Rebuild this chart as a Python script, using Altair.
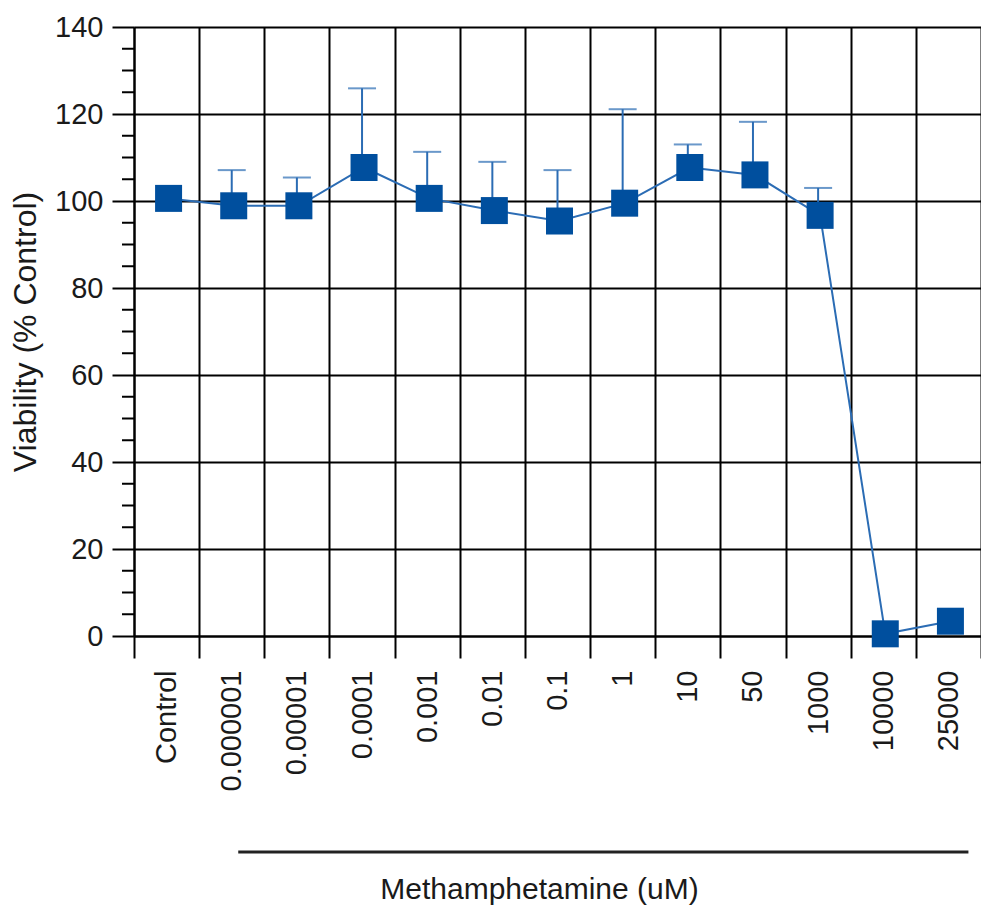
import altair as alt
import pandas as pd

categories = ["Control", "0.000001", "0.00001", "0.0001", "0.001", "0.01", "0.1",
              "1", "10", "50", "1000", "10000", "25000"]
viability = [100.6, 98.9, 98.9, 107.7, 100.6, 97.8, 95.4, 99.5, 107.7, 106.0, 96.7, 0.5, 3.4]
error_up = [0, 8.2, 6.5, 18.2, 10.7, 11.2, 11.7, 21.6, 5.3, 12.2, 6.3, 0, 0]
minor_ticks = [v for v in range(5, 140, 5) if v % 20 != 0]
y_ticks = [0, 20, 40, 60, 80, 100, 120, 140]

df = pd.DataFrame({"cat": categories, "v": viability, "e": error_up})
df["upper"] = df["v"] + df["e"]
df_err = df[df["e"] > 0]
df_minor = pd.DataFrame({"m": minor_ticks})

FONT = "Liberation Sans"
SQ = "#004f9e"
LN = "#2b6cb4"

xscale = alt.Scale(type="band", domain=categories, paddingInner=0, paddingOuter=0)
yscale = alt.Scale(domain=[0, 140], nice=False, zero=True)

xaxis = alt.Axis(
    tickBand="extent", tickSize=22, tickWidth=2, tickColor="black",
    domainColor="black", domainWidth=2,
    grid=True, gridColor="black", gridWidth=2, gridOpacity=1,
    labelAngle=-90, labelPadding=12, labelFontSize=29, labelFont=FONT, labelColor="#1a1a1a",
    title="Methamphetamine (uM)", titleFontSize=30, titleFont=FONT, titleFontWeight="normal",
    titleColor="#1a1a1a", titleX=405, titleY=262, titleBaseline="alphabetic",
)
yaxis = alt.Axis(
    values=y_ticks, tickSize=22, tickWidth=2, tickColor="black",
    domainColor="black", domainWidth=2,
    grid=True, gridColor="black", gridWidth=2, gridOpacity=1,
    labelPadding=9, labelFontSize=29, labelFont=FONT, labelColor="#1a1a1a",
    title="Viability (% Control)", titleFontSize=32, titleFont=FONT, titleFontWeight="normal",
    titleColor="#1a1a1a", titlePadding=12,
)

X = alt.X("cat:N", scale=xscale, axis=xaxis, sort=categories, bandPosition=0.5)
Y = alt.Y("v:Q", scale=yscale, axis=yaxis)

line = alt.Chart(df).mark_line(color=LN, strokeWidth=2, xOffset=2).encode(x=X, y=Y)

err_rule = alt.Chart(df_err).mark_rule(color=LN, strokeWidth=2).encode(
    x=alt.X("cat:N", scale=xscale, sort=categories, bandPosition=0.5),
    y=alt.Y("v:Q", scale=yscale),
    y2="upper:Q",
)
err_cap = alt.Chart(df_err).mark_tick(color=LN, thickness=2, size=28).encode(
    x=alt.X("cat:N", scale=xscale, sort=categories, bandPosition=0.5),
    y=alt.Y("upper:Q", scale=yscale),
)
squares = alt.Chart(df).mark_square(color=SQ, size=729, opacity=1, filled=True, xOffset=2).encode(
    x=alt.X("cat:N", scale=xscale, sort=categories, bandPosition=0.5),
    y=alt.Y("v:Q", scale=yscale),
)
minor = alt.Chart(df_minor).mark_rule(color="black", strokeWidth=2).encode(
    y=alt.Y("m:Q", scale=yscale),
    x=alt.value(-12),
    x2=alt.value(0),
)
bracket_df = pd.DataFrame({"start": ["0.000001"], "end": ["25000"]})
bracket = alt.Chart(bracket_df).mark_rule(color="#222222", strokeWidth=3, x2Offset=20).encode(
    x=alt.X("start:N", scale=xscale, sort=categories, bandPosition=0.6),
    x2="end:N",
    y=alt.value(825),
)

chart = alt.layer(line, err_rule, err_cap, squares, minor, bracket).properties(
    width=847, height=609,
    autosize=alt.AutoSizeParams(type="none"),
    padding={"left": 126, "top": 19, "right": 0, "bottom": 273},
).configure_view(stroke=None).configure(background="white")

chart.save("out.html", embed_options={"renderer": "svg", "actions": False})
